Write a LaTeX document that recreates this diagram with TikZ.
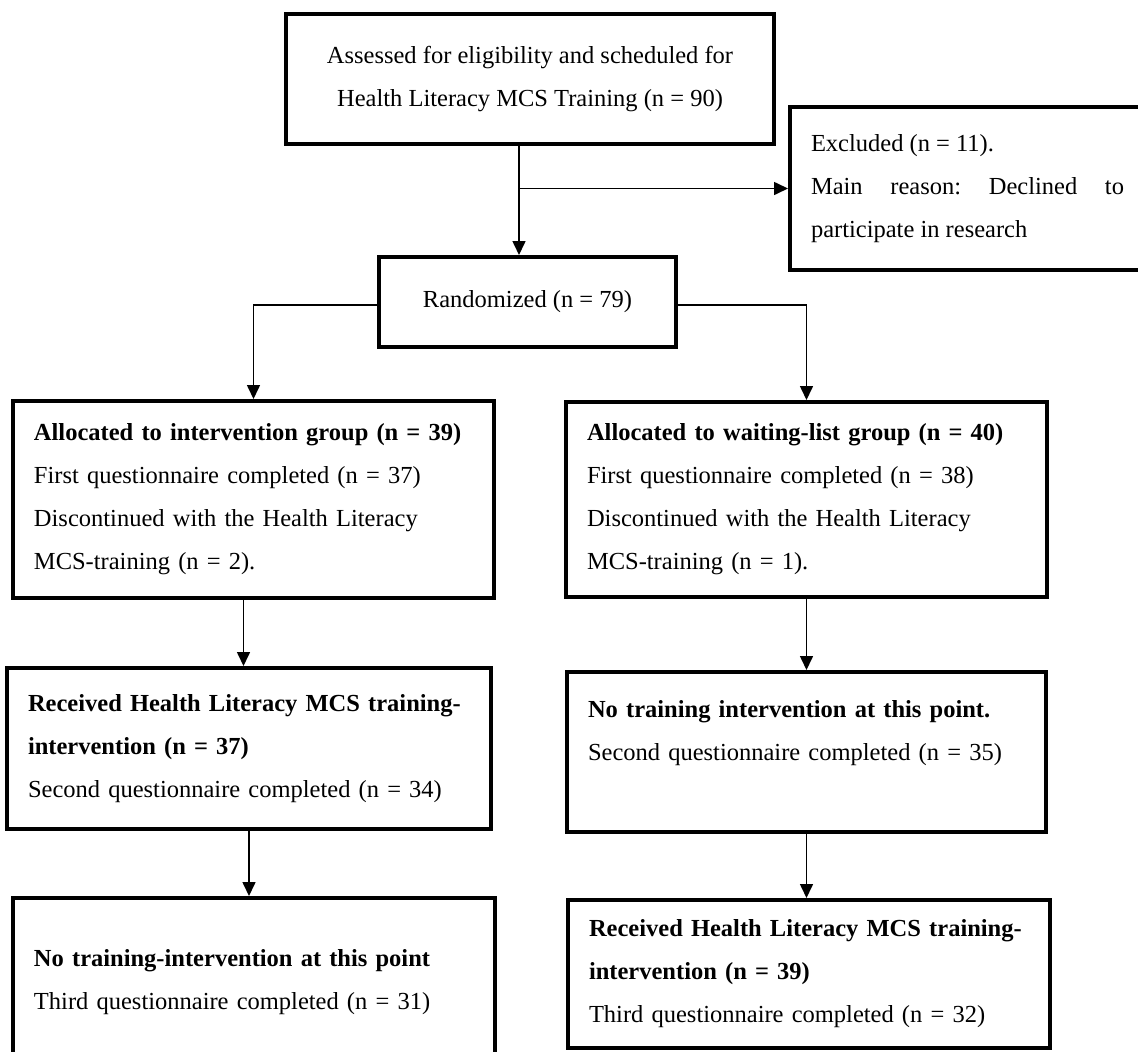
\documentclass[tikz,border=0pt]{standalone}
\usepackage{fontspec}
\setmainfont{Liberation Serif}
\usetikzlibrary{positioning, arrows.meta}

\begin{document}
\begin{tikzpicture}[x=1pt, y=-1pt,
    font=\fontsize{24.5}{43}\selectfont\frenchspacing,
    box/.style={draw, line width=4pt, inner xsep=21pt, inner ysep=0pt, align=left},
    arr/.style={line width=1.6pt, -{Triangle[width=13pt, length=14pt]}}]
  \useasboundingbox (0,0) rectangle (1138,1052);
  \clip (0,0) rectangle (1138,1052);

  \node[box, align=center, minimum width=488pt, minimum height=130pt] (assess) at (530,79)
    {Assessed for eligibility and scheduled for\\Health Literacy MCS Training (n = 90)};
  \node[box, align=justify, text width=313pt, minimum height=163pt] (excl) at (967.5,188.5)
    {Excluded (n = 11).\\Main reason: Declined to \mbox{participate} in research};
  \node[box, align=center, minimum width=297pt, minimum height=90pt] (rand) at (527.5,302)
    {Randomized (n = 79)};

  \node[box, text width=439pt, minimum height=197pt] (alloc1) at (253.5,499.5)
    {\textbf{Allocated to intervention group (n = 39)}\\
     First questionnaire completed (n = 37)\\
     Discontinued with the Health Literacy\\
     MCS-training (n = 2).};
  \node[box, text width=439pt, minimum height=195pt] (alloc2) at (806.5,499.5)
    {\textbf{Allocated to waiting-list group (n = 40)}\\
     First questionnaire completed (n = 38)\\
     Discontinued with the Health Literacy\\
     MCS-training (n = 1).};

  \node[box, text width=442pt, minimum height=161pt] (recv1) at (249,748.5)
    {\textbf{Received Health Literacy MCS training-}\\
     \textbf{intervention (n = 37)}\\
     Second questionnaire completed (n = 34)};
  \node[box, text width=437pt, minimum height=160pt] (none2) at (806.5,752)
    {\textbf{No training intervention at this point.}\\
     Second questionnaire completed (n = 35)\\
     \mbox{}};

  \node[box, text width=440pt, minimum height=168pt] (none1) at (254,982)
    {\textbf{No training-intervention at this point}\\
     Third questionnaire completed (n = 31)};
  \node[box, text width=440pt, minimum height=148pt] (recv2) at (809,974)
    {\textbf{Received Health Literacy MCS training-}\\
     \textbf{intervention (n = 39)}\\
     Third questionnaire completed (n = 32)};

  % connectors
  \draw[arr] ([xshift=-11pt]assess.south) -- ([xshift=-11pt]assess.south |- rand.north);
  \draw[arr] ([xshift=-11pt]assess.south |- excl.west) -- (excl.west);
  \draw[arr] ([yshift=-3pt]rand.west) -| (alloc1.north);
  \draw[arr] ([yshift=-3pt]rand.east) -| (alloc2.north);
  \draw[arr] ([xshift=-10pt]alloc1.south) -- ([xshift=-10pt]alloc1.south |- recv1.north);
  \draw[arr] (recv1.south) -- (recv1.south |- none1.north);
  \draw[arr] (alloc2.south) -- (alloc2.south |- none2.north);
  \draw[arr] (none2.south) -- (none2.south |- recv2.north);
\end{tikzpicture}
\end{document}
